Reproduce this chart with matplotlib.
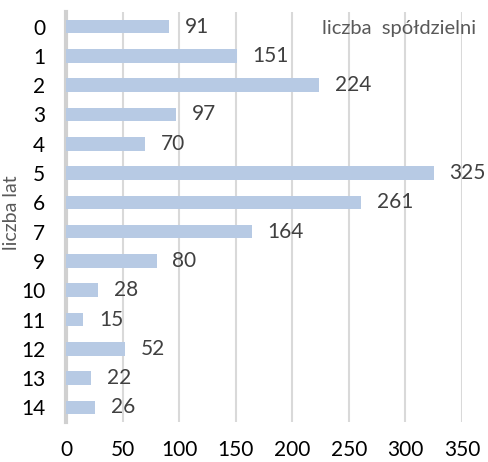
import matplotlib.pyplot as plt

lata = ['0', '1', '2', '3', '4', '5', '6', '7', '9', '10', '11', '12', '13', '14']
spoldzielnie = [91, 151, 224, 97, 70, 325, 261, 164, 80, 28, 15, 52, 22, 26]
x_ticks = [0, 50, 100, 150, 200, 250, 300, 350]

plt.rcParams['font.family'] = ['Lato', 'DejaVu Sans']

fig = plt.figure(figsize=(4.88, 4.62), dpi=100)
ax = fig.add_axes([66 / 488, 1 - 422 / 462, (462 - 66) / 488, 410 / 462])

pos = list(range(len(lata)))
ax.barh(pos, spoldzielnie, height=0.46, color='#b7cae4', zorder=3)

for p, v in zip(pos, spoldzielnie):
    ax.text(v + 14, p, str(v), va='center', ha='left', fontsize=15, color='#404040')

ax.set_xlim(0, 350)
ax.set_ylim(len(lata) - 0.5, -0.5)
ax.set_xticks(x_ticks)
ax.set_xticklabels([str(t) for t in x_ticks])
ax.set_yticks(pos)
ax.set_yticklabels(lata)
ax.tick_params(axis='both', length=0, labelsize=15, colors='black')
ax.tick_params(axis='x', pad=13)
ax.tick_params(axis='y', pad=15)

ax.grid(axis='x', color='#d9d9d9', linewidth=1.5, zorder=0)
for s in ['top', 'right', 'bottom']:
    ax.spines[s].set_visible(False)
ax.spines['left'].set_color('#d0d0d0')
ax.spines['left'].set_linewidth(3)

ax.set_ylabel('liczba lat', fontsize=14, color='#595959')
ax.yaxis.set_label_coords(-0.115, 0.51)

ax.text(1.035, 0.96, 'liczba  spółdzielni', transform=ax.transAxes,
        ha='right', va='center', fontsize=14.5, color='#595959')

plt.savefig('out.png', dpi=100)
